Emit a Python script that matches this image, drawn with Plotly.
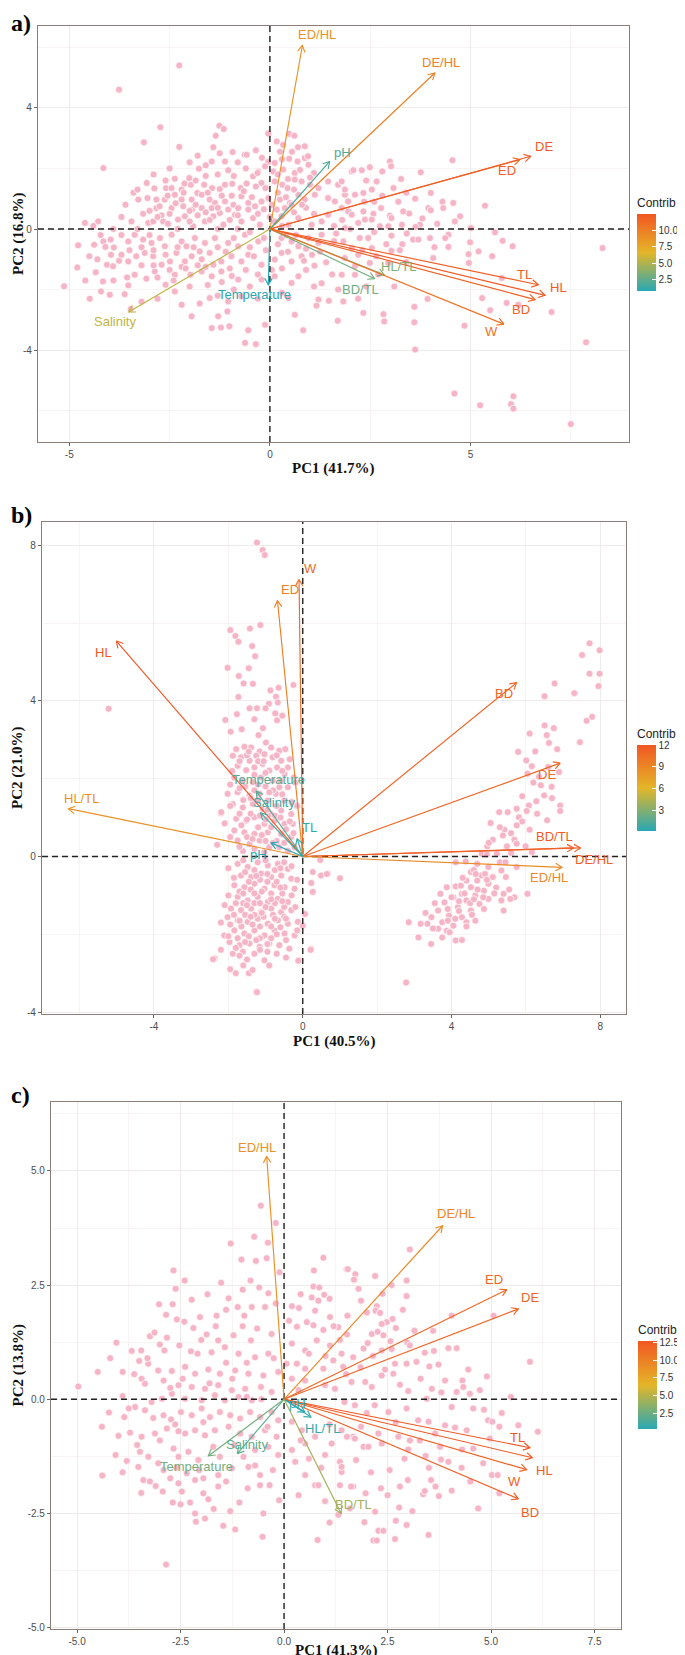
import plotly.graph_objects as go
import numpy as np

W, H = 685, 1655

# ---------------- Panel a data ----------------
a_ind = [(-2.26,5.40),(-3.76,4.60),
(-1.26,3.41),(-1.15,3.30),(-2.73,3.36),(-1.35,3.08),(-3.14,2.86),(-0.04,3.15),(0.17,2.89),(0.48,3.14),(0.61,3.08),(-2.26,2.71),(-1.41,2.70),(-0.93,2.54),(0.33,2.78),(0.87,2.73),
(-1.80,2.42),(-0.63,2.45),(-0.58,2.45),(-1.45,2.23),(-1.12,2.23),(-1.04,1.94),(-1.77,1.99),(-0.04,2.21),(0.12,2.18),(0.08,1.90),(0.48,2.32),(0.69,2.23),(0.96,2.12),(0.87,2.34),(-4.15,2.01),(-0.29,1.90),(-0.12,2.07),(0.33,1.96),(0.62,1.85),
(-2.37,1.66),(-2.01,1.68),(-1.97,1.46),(-2.13,1.50),(-1.81,1.19),(-1.64,1.46),(-1.44,1.35),(-1.25,1.32),(-1.12,1.46),(-0.94,1.49),(-0.73,1.35),(-0.58,1.50),(-0.42,1.74),(-0.31,1.85),(-0.21,1.52),(-0.11,1.35),(0.12,1.57),(0.31,1.46),(0.44,1.35),(0.62,1.63),(0.79,1.57),(1.00,1.46),(-3.07,1.52),(-2.88,1.34),(-2.59,1.35),(-2.45,1.35),
(-3.28,0.97),(-3.05,1.02),(-2.83,0.97),(-2.62,0.97),(-2.37,1.13),(-2.20,0.97),(-1.95,0.97),(-1.70,1.13),(-1.50,0.97),(-1.37,0.86),(-1.12,0.91),(-0.91,0.80),(-0.71,1.08),(-0.54,0.86),(-0.21,0.91),(-0.04,1.02),(0.25,0.97),(0.50,0.86),(0.71,1.13),(0.87,0.97),(1.12,1.13),(-3.16,0.50),(-2.83,0.69),(-2.70,0.45),(-2.45,0.69),(-2.16,0.75),(-1.94,0.64),(-1.70,0.69),(-1.45,0.69),(-1.25,0.53),(-1.04,0.64),(-0.79,0.69),(-0.54,0.64),(-0.37,0.75),(0.17,0.64),(0.37,0.69),(0.54,0.80),
(-3.45,0.25),(-3.03,0.20),(-2.91,0.25),(-2.66,0.25),(-2.54,0.17),(-2.29,0.31),(-2.12,0.42),(-1.91,0.09),(-1.62,0.25),(-1.41,0.42),(-1.16,0.14),(-0.87,0.47),(-0.71,0.25),(-0.42,0.36),(-0.25,0.14),(0.12,0.25),(0.29,0.42),(0.46,0.14),(0.71,0.36),(1.04,0.14),(1.29,0.25),(1.45,0.47),(-4.61,0.20),(-4.28,0.25),
(-4.38,-0.52),(-4.22,-0.20),(-4.15,-0.41),(-4.10,-0.59),(-3.97,-0.35),(-3.89,-0.61),(-3.53,-0.41),(-3.37,-0.19),(-3.16,-0.35),(-2.95,-0.46),(-2.74,-0.30),(-2.62,-0.57),(-2.45,-0.19),(-2.20,-0.41),(-2.08,-0.57),(-1.87,-0.30),(-1.62,-0.46),(-1.37,-0.30),(-1.04,-0.46),(-0.79,-0.57),(-0.62,-0.19),(-0.29,-0.41),(0.29,-0.30),(0.54,-0.41),(0.71,-0.57),(0.96,-0.30),(1.21,-0.46),(-4.78,-0.54),(1.29,-0.19),
(-4.06,-1.18),(-3.96,-0.85),(-3.91,-1.23),(-3.76,-1.05),(-3.70,-0.85),(-3.53,-1.07),(-3.33,-0.90),(-3.12,-0.79),(-2.91,-0.90),(-2.70,-1.18),(-2.49,-1.07),(-2.33,-0.79),(-2.12,-1.07),(-1.95,-0.90),(-1.75,-0.74),(-1.50,-0.79),(-1.41,-1.18),(-1.21,-1.07),(-0.96,-0.90),(-0.71,-1.07),(-0.54,-0.85),(-0.21,-1.18),(0.12,-1.01),(0.29,-0.79),(0.54,-1.07),(0.79,-0.90),(1.11,-1.21),(-4.80,-1.27),
(-4.34,-1.43),(-4.16,-1.73),(-3.56,-1.60),(-3.53,-1.86),(-3.37,-1.51),(-3.08,-1.64),(-2.87,-1.40),(-2.60,-1.84),(-2.37,-1.51),(-1.98,-1.51),(-1.70,-1.40),(-1.45,-1.56),(-1.21,-1.40),(-0.79,-1.67),(-0.21,-1.67),(0.12,-1.56),(0.54,-1.78),(0.71,-1.56),(1.29,-1.79),(-5.13,-1.89),
(-4.49,-2.30),(-4.21,-2.06),(-3.99,-2.17),(-3.62,-2.15),(-3.47,-2.64),(-2.37,-2.06),(-1.75,-2.46),(-1.50,-2.28),(-1.04,-2.39),(-0.71,-2.22),(0.46,-2.28),(1.21,-2.33),(1.47,-2.37),(1.83,-2.39),(-1.95,-2.88),(-1.29,-2.88),(-1.06,-2.72),(-1.45,-3.27),(-1.22,-3.25),(-1.01,-3.21),(-0.54,-3.34),(-0.12,-3.16),(0.62,-2.83),(0.83,-3.34),(1.16,-2.53),(1.69,-3.03),(-0.62,-3.76),(-0.35,-3.80),
(1.21,1.35),(1.45,1.57),(1.70,1.46),(1.87,1.13),(2.04,1.90),(1.62,0.91),(1.95,0.58),(1.45,1.02),
(-3.0,0.6),(-2.8,0.4),(-2.5,0.5),(-2.3,0.0),(-2.0,0.25),(-1.8,0.45),(-1.5,0.3),(-1.3,0.0),(-1.0,0.3),(-0.8,0.0),(-0.5,-0.1),(-0.3,0.5),(0.0,0.4),(0.3,0.1),(0.6,0.55),(0.9,0.7),(1.1,0.5),
(-3.2,-0.6),(-2.9,-0.7),(-2.6,-0.85),(-2.3,-0.6),(-1.9,-0.6),(-1.7,-1.0),(-1.3,-0.6),(-1.1,-0.75),(-0.9,-0.3),(-0.5,-0.6),(-0.1,-0.7),(0.2,-0.5),(0.45,-0.75),(0.9,-0.65),
(-2.6,1.6),(-2.2,1.3),(-1.85,1.6),(-1.6,1.75),(-1.3,1.8),(-0.9,1.75),(-0.6,2.0),(-0.2,2.35),(0.3,2.3),(0.55,2.55),(0.75,1.95),(1.1,1.85),(-2.9,-1.2),(-2.5,-1.35),(-2.2,-1.25),(-1.6,-1.25),(-1.0,-1.3),(-0.6,-1.35),(-0.3,-1.5),(0.3,-1.3),(0.9,-1.35),
(-3.6,0.8),(-3.4,1.2),(-3.3,0.0),(-3.0,-0.2),(-2.75,0.75),(-2.55,1.1),(-2.35,0.85),(-2.15,1.2),(-2.0,0.6),(-1.85,0.8),(-1.6,0.55),(-1.55,1.2),(-1.3,0.7),(-1.2,1.1),(-0.95,1.1),(-0.8,0.45),(-0.65,1.25),(-0.45,1.05),(-0.35,1.4),(-0.15,0.65),(0.05,0.8),(0.2,1.2),(0.4,1.05),(0.6,1.3),(0.8,0.8),(1.0,1.7),(0.45,1.65),(0.2,1.8),(0.95,2.4),(0.7,2.7),(0.25,2.55),(-0.35,2.6),(-0.8,2.2),(-1.25,2.5),(-1.6,2.1),(-2.0,2.2),(-2.5,2.0),(-2.9,1.8),(-3.3,1.3),(-3.7,0.4),(-3.9,0.0),(-4.4,0.1),(-4.5,-0.9),(-4.3,-1.0),(-3.7,-0.2),(-3.5,-0.7),(-3.2,-1.2),(-2.8,-1.6),(-2.4,-1.7),(-2.1,-1.3),(-2.0,-1.9),(-1.8,-1.2),(-1.55,-1.85),(-1.2,-1.75),(-0.95,-1.55),(-0.5,-1.9),(-0.4,-0.9),(-0.15,-0.3),(0.05,-1.35),(0.4,-0.2),(0.65,-0.2),(0.85,-1.05),(1.05,-0.85),(1.25,-0.75),(1.4,-1.1),(1.6,-0.4),(1.55,-1.5),(1.7,-2.0),(1.1,-1.9),(0.3,-2.1),(-0.3,-2.3),(-0.9,-2.0),(-1.3,-2.2),(-2.2,-2.5),(-2.8,-2.3),(-3.2,-2.4),(-3.9,-1.7),(-4.6,-1.7),
(1.6,0.1),(1.8,0.3),(1.65,-0.15),(2.0,0.0),(2.2,0.2),(2.35,0.9),(2.6,0.9),(2.8,1.1),(2.4,1.6),(2.8,1.9),(3.4,1.2),(3.2,0.9),(2.6,-0.1),(2.9,-0.5),(2.3,-0.7),(2.65,-0.9),(3.3,-0.5),(3.8,0.35),(4.3,0.9),(4.1,-0.6),(3.4,-1.1),(2.7,-1.5),(3.1,-1.9),(2.4,-1.9),(2.2,-2.3),
(4.55,2.27),(2.99,2.23),(3.02,2.07),(2.49,2.04),(2.29,1.94),(2.08,1.94),(3.76,1.87),(2.66,1.57),(3.27,1.65),(3.08,1.35),(4.01,1.19),(2.33,1.19),(2.54,1.30),(3.62,1.00),(2.77,0.69),(4.57,0.86),(5.36,0.77),(4.32,0.69),(3.95,0.69),(4.01,0.62),(3.47,0.51),(3.32,0.58),(2.99,0.44),(3.03,0.36),(2.58,0.50),(2.33,0.58),(2.37,0.31),(2.54,0.31),(4.74,0.42),(4.61,0.25),(4.17,0.17),(3.74,0.14),(3.63,0.07),(3.29,0.14),(2.95,0.09),(2.74,0.09),(5.01,0.03),(5.61,-0.11),(4.45,-0.19),(4.37,-0.30),(3.99,-0.30),(3.57,-0.35),(3.70,-0.35),(3.41,-0.15),(3.03,-0.22),(2.45,-0.30),(2.24,-0.30),(4.99,-0.44),(5.80,-0.39),(6.05,-0.57),(4.45,-0.59),(3.24,-0.70),(3.03,-0.72),(2.54,-0.63),(5.20,-0.74),(4.95,-0.83),(5.54,-0.90),(4.96,-1.12),(4.07,-0.96),(2.95,-1.12),(2.49,-1.12),(2.12,-1.23),(5.78,-1.62),(5.29,-2.28),(5.90,-2.44),(6.19,-2.50),(7.02,-2.74),(5.49,-2.68),(4.85,-3.19),(3.60,-2.57),(3.60,-3.08),(3.93,-2.31),(2.83,-2.81),(2.85,-3.05),(2.33,-2.77),(1.83,-2.39),(3.62,-3.98),(4.60,-5.43),(5.24,-5.82),(6.07,-5.52),(6.01,-5.78),(6.07,-5.93),(7.50,-6.44),(7.88,-3.74),(8.29,-0.63),
(1.79,1.57),(1.87,1.30),(1.95,0.91),(2.12,1.13),(1.79,0.69),(2.04,0.47),(1.87,0.03),(1.83,-0.41),(2.04,-0.63),(1.87,-0.96),(2.20,-0.85),(1.79,-1.51),(2.12,-1.51)]

a_vars = ["ED/HL", "DE/HL", "pH", "DE", "ED", "HL/TL", "BD/TL", "TL", "HL", "BD", "W", "Temperature", "Salinity"]
a_var_pc1 = [0.81, 4.11, 1.49, 6.50, 6.23, 2.85, 2.61, 6.69, 6.86, 6.61, 5.83, -0.04, -3.52]
a_var_pc2 = [6.06, 5.15, 2.23, 2.40, 2.29, -1.51, -1.64, -1.84, -2.19, -2.33, -3.14, -1.84, -2.74]
a_contrib = [8.8, 10.0, 2.0, 12.3, 11.8, 3.5, 3.0, 12.0, 12.5, 11.8, 10.8, 0.8, 5.5]
a_lab_pc1 = [1.17, 4.27, 1.82, 6.83, 5.90, 3.21, 2.25, 6.34, 7.19, 6.25, 5.52, -0.39, -3.87]
a_lab_pc2 = [6.41, 5.48, 2.51, 2.73, 1.93, -1.23, -2.00, -1.51, -1.93, -2.66, -3.38, -2.15, -3.05]

# ---------------- Panel b data ----------------
b_ind = [(-1.23,8.07),(-1.08,7.88),(-1.02,7.75),
(-1.95,5.82),(-1.42,5.86),(-1.14,5.95),(-1.81,5.67),(-1.73,5.52),(-1.36,5.41),(-1.28,5.15),(-1.45,4.84),(-2.02,4.85),(-1.72,4.64),(-1.59,4.45),(-1.34,4.44),(-0.65,4.34),(-0.25,4.41),(-0.87,4.27),(-1.73,4.10),(-0.72,4.11),(-0.91,3.93),(-0.67,3.96),(-1.43,3.81),(-1.23,3.81),(-1.00,3.81),(-2.08,3.51),(-1.77,3.66),(-1.30,3.53),(-0.74,3.68),(-0.55,3.62),(-0.69,3.50),(-1.07,3.30),(-1.64,3.27),(-1.94,3.21),(-1.19,3.12),
(-1.79,2.76),(-1.57,2.82),(-1.39,2.80),(-1.16,2.70),(-0.99,2.93),(-0.85,2.80),(-0.63,2.72),(-0.47,2.76),
(-1.88,2.59),(-1.66,2.55),(-1.43,2.46),(-1.25,2.59),(-1.03,2.63),(-0.81,2.55),(-0.58,2.46),(-0.40,2.29),
(-1.75,2.33),(-1.52,2.22),(-1.30,2.29),(-1.08,2.38),(-0.90,2.21),(-0.69,2.29),(-0.49,2.12),(-0.24,2.03),
(-1.84,2.03),(-1.61,1.95),(-1.34,1.91),(-1.12,2.03),(-0.81,1.95),(-0.63,1.78),(-0.40,1.78),
(-2.02,1.61),(-1.75,1.65),(-1.43,1.56),(-1.16,1.61),(-0.94,1.44),(-0.72,1.61),(-0.49,1.44),
(-2.20,1.11),(-1.88,1.35),(-1.61,1.26),(-1.34,1.35),(-1.08,1.22),(-0.85,1.09),(-0.58,1.18),(-0.31,1.09),
(-1.79,0.97),(-1.52,0.92),(-1.30,1.01),(-1.03,0.84),(-0.76,0.92),(-0.49,0.84),(-0.27,0.84),
(-1.84,0.67),(-1.57,0.62),(-1.30,0.58),(-0.94,0.62),(-0.58,0.58),(-0.31,0.50),
(-1.75,0.41),(-1.43,0.32),(-1.16,0.41),(-0.90,0.24),(-0.63,0.24),(-0.40,0.15),(-1.61,0.14),(-1.03,0.11),(-0.22,0.24),
(-1.2,2.45),(-1.5,2.6),(-0.7,2.6),(-1.0,2.15),(-1.3,2.1),(-0.6,1.95),(-1.55,1.8),(-1.0,1.8),(-0.8,1.7),(-1.3,1.7),(-1.6,1.45),(-1.2,1.45),(-0.7,1.3),(-1.4,1.1),(-1.15,1.05),(-0.95,1.2),(-0.75,1.05),(-1.65,0.8),(-1.2,0.75),(-0.85,0.75),(-0.45,0.7),(-1.5,0.5),(-1.1,0.55),(-0.7,0.4),(-1.3,0.2),(-0.8,0.35),
(-1.9,2.2),(-1.7,2.45),(-1.45,2.7),(-1.05,2.45),(-0.55,2.2),(-0.35,2.5),(-1.95,1.85),(-1.7,1.75),(-1.4,1.5),(-1.2,1.85),(-0.9,1.65),(-0.55,1.6),(-0.3,1.4),(-1.95,1.3),(-1.7,1.1),(-1.5,0.95),(-1.0,0.95),(-0.6,1.0),(-0.35,0.9),(-1.95,0.5),(-1.7,0.25),(-1.35,0.45),(-1.0,0.4),(-0.5,0.35),(-0.25,0.6),(-2.1,0.85),(-2.3,0.3),(-0.15,1.3),(-0.2,1.9),
(-1.75,-0.19),(-1.48,-0.27),(-1.21,-0.15),(-0.94,-0.23),(-0.67,-0.19),(-0.40,-0.32),
(-1.66,-0.49),(-1.39,-0.53),(-1.12,-0.44),(-0.85,-0.53),(-0.58,-0.49),(-0.31,-0.57),(0.27,-0.40),(0.49,-0.49),(0.67,-0.44),
(-1.84,-0.74),(-1.57,-0.79),(-1.30,-0.70),(-1.03,-0.83),(-0.76,-0.74),(-0.49,-0.79),(-0.22,-0.83),(0.27,-0.91),
(-1.75,-1.04),(-1.48,-1.13),(-1.21,-1.04),(-0.94,-1.17),(-0.67,-1.09),(-0.40,-1.17),
(-1.93,-1.34),(-1.66,-1.38),(-1.39,-1.34),(-1.12,-1.43),(-0.85,-1.34),(-0.58,-1.43),(-0.31,-1.38),
(-2.02,-1.56),(-1.75,-1.64),(-1.48,-1.68),(-1.21,-1.60),(-0.94,-1.73),(-0.67,-1.64),(-0.40,-1.73),(-0.13,-1.68),
(-1.84,-1.90),(-1.57,-1.98),(-1.30,-1.90),(-1.03,-2.03),(-0.76,-1.90),(-0.49,-1.98),(-0.22,-2.03),(-2.11,-2.03),
(-1.97,-2.20),(-1.70,-2.28),(-1.43,-2.24),(-1.16,-2.32),(-0.90,-2.24),(-0.63,-2.28),(-0.36,-2.37),
(-1.88,-2.50),(-1.61,-2.45),(-1.03,-2.67),(-1.34,-2.92),(-2.37,-2.62),(-0.09,-2.67),(0.22,-2.37),(-1.25,-3.48),
(-1.6,-0.1),(-1.3,-0.35),(-1.0,-0.1),(-0.75,-0.35),(-0.5,-0.15),(-1.45,-0.65),(-1.15,-0.6),(-0.7,-0.65),(-1.7,-0.9),(-1.4,-0.85),(-1.1,-0.9),(-0.85,-0.95),(-0.55,-0.95),(-1.6,-1.2),(-1.3,-1.2),(-1.0,-1.3),(-0.75,-1.2),(-0.5,-1.3),(-1.85,-1.5),(-1.55,-1.5),(-1.3,-1.5),(-1.05,-1.55),(-0.8,-1.5),(-0.5,-1.55),(-1.65,-1.8),(-1.35,-1.75),(-1.15,-1.8),(-0.85,-1.8),(-0.6,-1.82),(-1.95,-1.75),(-1.45,-2.05),(-1.15,-2.1),(-0.85,-2.1),(-1.8,-2.35),(-1.3,-2.5),(-0.95,-2.45),(-1.5,-2.65),(-1.95,-2.9),(-1.6,-2.8),
(-2.0,-0.3),(-1.85,-0.55),(-1.55,-0.4),(-1.25,-0.5),(-0.95,-0.45),(-0.6,-0.3),(-0.3,-0.25),(-0.15,-0.6),(-2.0,-1.0),(-1.6,-0.95),(-1.3,-0.95),(-0.95,-0.65),(-0.6,-0.8),(-0.3,-1.0),(-2.1,-1.25),(-1.8,-1.2),(-1.5,-1.25),(-1.15,-1.2),(-0.85,-1.1),(-0.55,-1.15),(-0.2,-1.3),(-2.2,-1.7),(-1.7,-1.65),(-1.4,-1.55),(-1.1,-1.45),(-0.75,-1.6),(-0.45,-1.6),(-0.15,-1.9),(-2.0,-2.05),(-1.75,-2.1),(-1.55,-2.2),(-1.25,-2.15),(-0.95,-2.25),(-0.7,-2.0),(-0.45,-2.15),(-2.2,-2.4),(-1.7,-2.55),(-1.15,-2.4),(-0.7,-2.5),(-0.45,-2.6),(-1.8,-3.0),(-1.45,-3.0),(-0.9,-2.8),
(-5.22,3.80),(-2.19,1.14),(-2.41,-2.64),(-1.35,-2.92),(-1.23,-3.49),(-0.12,-2.68),(0.21,-2.40),(0.06,-1.48),(0.47,-0.09),(0.65,-0.45),(1.00,-0.56),(0.23,-0.68),(0.0,-1.78),(2.78,-3.24),
(7.71,5.48),(7.98,5.30),(7.51,5.18),(7.71,4.70),(7.98,4.70),(7.95,4.38),(6.77,4.45),(6.50,4.12),(7.78,3.59),(7.63,3.49),(7.45,2.94),(6.10,3.16),(6.50,3.37),(6.56,3.12),(6.62,2.92),(6.84,2.76),(5.79,2.69),(6.01,2.47),(6.16,2.32),(6.89,2.17),(6.04,2.13),(6.40,1.83),(6.69,1.79),(6.49,1.57),(6.28,1.42),(6.08,1.31),(6.92,1.31),(6.92,1.17),(5.75,1.23),(6.02,1.17),(5.51,1.14),(5.28,1.14),(5.81,1.01),(6.57,0.93),(5.05,0.86),(5.42,0.69),(6.10,0.69),(5.11,0.43),(5.69,0.43),(5.38,0.54),(4.96,0.26),(5.49,0.26),(5.75,0.33),(5.99,0.26),(6.16,0.11),(4.81,0.07),(5.22,0.07),(5.60,0.09),(4.69,-0.19),(4.11,-0.15),(4.38,-0.13),(4.99,-0.27),(5.34,-0.36),(5.75,-0.27),(4.52,-0.40),(4.79,-0.49),(5.11,-0.53),(5.46,-0.53),(4.40,-0.62),(4.69,-0.62),(4.99,-0.70),(4.11,-0.77),(4.52,-0.79),(4.87,-0.88),(3.87,-0.79),(4.28,-0.96),(4.64,-1.00),(4.99,-1.09),(5.40,-0.96),(5.69,-1.05),(6.04,-0.96),(3.70,-0.96),(4.05,-1.05),(4.40,-1.13),(4.75,-1.22),(5.34,-1.13),(5.58,-1.09),(3.81,-1.18),(4.17,-1.30),(4.52,-1.39),(4.87,-1.35),(5.40,-1.39),(3.64,-1.39),(3.93,-1.52),(4.28,-1.56),(4.64,-1.65),(3.46,-1.56),(3.75,-1.69),(4.05,-1.78),(4.40,-1.69),(3.35,-1.73),(3.64,-1.86),(3.87,-1.91),(3.17,-1.73),(2.85,-1.69),(3.11,-2.08),(3.75,-2.08),(4.11,-2.16),(4.28,-2.15),
(4.6,-0.35),(4.9,-0.45),(4.3,-0.55),(4.7,-0.85),(4.2,-1.15),(4.5,-1.2),(3.9,-1.35),(4.1,-1.6),(4.85,-1.05),(5.2,-0.8),(5.3,-0.15),(4.95,0.05),(5.6,0.6),(5.9,0.9),(6.3,1.1),(6.7,1.5),(6.2,1.9),(6.6,2.3),(4.4,-1.8),(3.55,-1.2),
(3.3,-1.45),(3.5,-1.85),(3.9,-1.65),(4.2,-1.4),(4.35,-0.95),(4.6,-1.1),(4.0,-1.05),(4.25,-0.75),(4.65,-0.45),(4.95,-0.6),(5.15,-0.95),(5.55,-0.85),(5.45,-0.15),(5.0,0.35),(5.3,0.75),(5.75,0.8),(5.9,1.55),(6.35,2.05),(6.25,2.7),(6.75,3.3),(7.3,4.2),(4.55,-1.5),(3.95,-1.95),(3.45,-2.25)]

b_vars = ["W", "ED", "HL", "HL/TL", "BD", "DE", "BD/TL", "DE/HL", "ED/HL", "Temperature", "Salinity", "TL", "pH"]
b_var_pc1 = [-0.10, -0.68, -5.01, -6.30, 5.75, 6.92, 7.28, 7.47, 6.97, -1.25, -1.13, -0.15, -0.85]
b_var_pc2 = [7.12, 6.58, 5.54, 1.23, 4.47, 2.40, 0.22, 0.22, -0.28, 1.68, 1.12, 0.46, 0.35]
b_contrib = [10.8, 9.5, 12.0, 8.3, 11.2, 11.0, 11.8, 11.4, 8.8, 1.6, 1.0, 0.5, 0.2]
b_lab_pc1 = [0.22, -0.35, -5.36, -5.96, 5.40, 6.56, 6.77, 7.84, 6.63, -0.91, -0.77, 0.19, -1.20]
b_lab_pc2 = [7.40, 6.86, 5.24, 1.48, 4.19, 2.12, 0.51, -0.08, -0.55, 1.97, 1.38, 0.75, 0.05]

# ---------------- Panel c data ----------------
c_ind = [(-0.56,4.24),(-0.20,3.86),(-0.72,3.56),(-1.29,3.41),(-0.39,3.43),(-1.03,3.06),(-0.68,3.03),(-0.42,3.09),(-2.67,2.82),(-0.11,2.78),(-1.52,2.55),(-2.62,2.42),(-0.81,2.60),(-0.60,2.45),(-0.38,2.32),(-2.23,2.18),(-3.02,2.08),(-2.69,2.08),(-1.34,2.21),(-1.12,2.02),(-0.78,2.02),(-0.46,2.02),(-4.05,1.24),(-2.85,1.85),(-2.59,1.75),(-2.41,1.70),(-2.03,1.80),(-1.63,1.83),(-1.40,1.96),(-0.96,1.83),
(-3.24,1.38),(-3.13,1.46),(-2.83,1.35),(-2.19,1.56),(-1.87,1.42),(-1.59,1.29),(-1.22,1.40),(-0.80,1.29),(-0.30,1.43),(-3.68,1.06),(-3.45,1.07),(-2.89,1.07),(-2.53,1.18),(-2.09,1.00),(-1.75,1.03),(-1.43,1.14),(-1.10,1.00),(-0.70,0.92),(-0.38,1.00),
(-3.50,0.84),(-3.28,0.78),(-3.04,0.63),(-2.71,0.62),(-2.39,0.71),(-2.15,0.56),(-1.83,0.65),(-1.55,0.56),(-1.18,0.63),(-0.86,0.56),(-0.50,0.52),(-0.14,0.60),(-3.62,0.55),(-3.44,0.45),(-3.36,0.34),(-2.91,0.41),(-2.55,0.31),(-2.23,0.27),(-1.91,0.23),(-1.59,0.31),(-1.26,0.20),(-0.94,0.23),(-0.56,0.27),(-0.30,0.16),(-4.97,0.28),
(-3.90,0.07),(-3.20,-0.06),(-2.95,0.01),(-2.71,0.12),(-2.39,0.01),(-1.99,-0.02),(-1.67,0.09),(-1.43,-0.02),(-1.10,0.05),(-0.78,-0.02),
(-4.23,-0.29),(-3.86,-0.39),(-3.60,-0.17),(-3.36,-0.24),(-3.16,-0.41),(-2.91,-0.35),(-2.73,-0.44),(-2.49,-0.28),(-2.23,-0.35),(-1.99,-0.20),(-1.79,-0.39),(-1.55,-0.28),(-1.30,-0.35),(-1.06,-0.42),(-0.82,-0.28),(-0.58,-0.39),(-0.30,-0.28),(-0.14,-0.46),
(-3.72,-0.73),(-3.44,-0.82),(-3.12,-0.75),(-2.83,-0.64),(-2.63,-0.55),(-2.39,-0.75),(-2.15,-0.68),(-1.91,-0.79),(-1.67,-0.68),(-1.34,-0.60),(-1.06,-0.75),(-0.78,-0.82),(-0.46,-0.68),(-0.18,-0.82),
(-4.07,-1.22),(-3.80,-1.35),(-3.48,-1.15),(-3.28,-1.26),(-3.04,-1.40),(-2.67,-1.08),(-2.55,-1.26),(-2.31,-1.15),(-2.07,-1.33),(-1.71,-1.04),(-1.55,-1.26),(-0.98,-1.26),(-0.70,-1.11),(-0.38,-1.04),(-0.14,-1.22),
(-4.39,-1.67),(-3.52,-1.48),(-3.40,-1.77),(-3.24,-1.80),(-2.91,-1.55),(-2.75,-1.73),(-2.55,-1.84),(-2.35,-1.62),(-2.15,-1.77),(-1.95,-1.73),(-1.59,-1.66),(-1.26,-1.51),(-0.86,-1.48),(-0.58,-1.66),(-0.27,-1.55),
(-3.45,-2.05),(-2.93,-2.02),(-2.69,-2.26),(-2.47,-2.02),(-2.27,-2.26),(-1.95,-2.06),(-1.83,-2.19),(-1.59,-1.91),(-1.08,-2.26),(-0.88,-1.95),(-0.58,-1.88),(-0.35,-1.88),(-0.12,-2.21),
(-2.15,-2.50),(-1.91,-2.61),(-2.13,-2.68),(-1.47,-2.77),(-1.18,-2.85),(-0.52,-3.01),(-2.85,-3.62),
(-4.5,0.6),(-4.2,0.9),(-3.9,0.6),(-3.75,-0.2),(-3.3,0.9),(-3.0,1.2),(-2.75,0.25),(-2.45,0.45),(-2.25,1.05),(-2.0,1.3),(-1.8,0.35),(-1.65,1.6),(-1.4,0.8),(-1.25,0.45),(-1.0,1.6),(-0.9,0.8),(-0.65,1.55),(-0.55,0.0),(-0.25,0.9),(-0.2,2.1),(-1.85,2.3),(-2.4,2.6),(-1.0,2.4),(-0.9,0.05),(-1.95,-0.5),(-2.55,-0.7),(-3.0,-0.9),(-3.55,-1.0),(-4.0,-0.8),(-4.4,-0.6),(-3.9,-1.6),(-3.1,-1.9),(-2.6,-1.5),(-2.05,-1.55),(-1.4,-1.8),(-1.2,-1.0),(-0.7,-1.45),(-0.4,-0.6),(-1.7,-2.4),(-2.5,-2.3),(-0.5,-2.5),(-1.3,-2.45),
(0.72,2.82),(0.71,2.47),(0.85,2.45),(0.67,2.23),(0.97,2.29),(0.83,2.16),(0.19,2.04),(0.36,2.00),(0.75,1.94),(0.12,1.72),(0.31,1.59),(0.55,1.69),(0.71,1.62),(0.95,1.52),(1.11,1.80),(1.31,1.58),(1.51,2.85),(1.70,2.62),(1.55,1.83),
(0.19,1.22),(0.51,1.07),(0.79,1.29),(1.11,1.18),(1.39,1.00),(0.06,0.78),(0.31,0.78),(0.51,0.67),(0.95,0.67),(1.19,0.85),(1.43,0.71),(1.67,0.92),(0.19,0.45),(0.51,0.41),(0.99,0.31),(1.23,0.23),(1.63,0.38),
(0.19,-0.49),(0.43,-0.68),(0.19,-1.11),(0.51,-0.97),(0.75,-0.82),(1.15,-0.97),(1.39,-0.68),(1.67,-0.82),(0.27,-1.37),(0.51,-1.66),(0.75,-1.88),(0.99,-1.22),(1.35,-1.37),(1.39,-1.59),(1.67,-1.91),(0.35,-2.10),(0.83,-1.88),(0.99,-2.23),(1.59,-2.39),(0.81,-3.08),(1.31,-2.53),
(0.35,0.2),(0.6,1.0),(1.0,0.95),(1.35,1.3),(1.5,0.55),(1.85,0.7),(2.15,0.95),(2.6,1.1),(3.15,1.5),(3.6,1.5),(3.3,0.45),(3.8,0.15),(4.45,0.65),(4.9,0.5),(5.2,-0.6),(4.3,-1.1),(3.5,-1.5),(2.55,-1.55),(2.1,-1.6),(1.1,-0.55),(0.6,-1.3),(1.1,-2.7),(2.5,-2.1),(3.1,-2.45),(4.05,-2.0),(4.5,-1.8),(2.0,-0.3),(2.7,-0.5),(3.0,-1.1),(0.4,-0.9),(0.9,-1.5),(1.2,1.6),(0.4,2.3),(1.1,2.2),(2.0,1.9),(2.6,2.5),(2.2,2.7),(0.95,3.1),
(3.04,3.28),(1.54,2.85),(1.72,2.74),(1.69,2.62),(2.96,2.60),(1.80,2.42),(2.38,2.31),(2.96,2.26),(1.86,2.16),(2.24,2.04),(2.87,1.96),(1.53,1.83),(2.21,1.94),(2.32,1.89),(2.62,1.76),(2.48,1.69),(2.36,1.65),(4.05,1.83),(5.06,1.83),(2.70,1.56),(2.12,1.43),(2.26,1.48),(2.40,1.40),(1.52,1.42),(2.57,1.27),(2.98,1.24),(2.02,1.23),(3.04,1.18),(1.92,1.11),(2.36,1.07),(3.40,1.02),(3.62,1.06),(3.97,1.12),(4.17,1.12),
(3.20,0.82),(2.96,0.78),(2.68,0.78),(3.51,0.72),(3.73,0.76),(5.94,0.82),(2.44,0.65),(2.64,0.56),(2.36,0.52),(1.96,0.38),(2.12,0.27),(2.80,0.32),(3.00,0.18),(3.89,0.41),(4.31,0.41),(4.33,0.27),(4.17,0.16),(4.73,0.20),(4.49,0.12),(3.57,0.23),(3.45,0.01),(5.48,0.05),
(1.46,-0.06),(1.71,-0.13),(2.19,-0.13),(2.52,-0.28),(2.96,-0.20),(3.24,-0.46),(3.49,-0.49),(4.05,-0.17),(4.57,-0.20),(4.83,-0.23),(5.26,-0.30),(4.93,-0.46),(5.03,-0.49),(3.89,-0.57),(4.13,-0.62),(4.41,-0.68),(5.66,-0.57),(6.13,-0.71),(1.86,-0.60),(2.28,-0.75),(2.76,-0.82),(3.28,-0.90),(3.65,-0.75),(1.52,-0.82),(1.71,-0.86),(1.92,-1.04),(2.04,-1.04),(2.36,-0.97),(3.04,-0.90),(3.77,-1.04),(4.57,-1.08),(4.97,-0.86),
(2.91,-1.30),(3.42,-1.24),(3.79,-1.32),(3.97,-1.37),(4.29,-1.50),(4.81,-1.40),(5.02,-1.66),(5.16,-1.66),(1.74,-1.33),(1.39,-1.48),(1.35,-1.88),(1.62,-1.91),(2.34,-1.95),(2.80,-1.91),(2.99,-1.77),(3.55,-1.77),(3.66,-1.91),(3.36,-2.08),(3.74,-2.12),(3.40,-2.01),(5.20,-2.06),(1.97,-2.06),(2.78,-2.37),(2.20,-2.46),(4.69,-2.39),(1.94,-2.69),(2.70,-2.66),(2.96,-2.75),(2.28,-2.88),(2.40,-2.88),(2.16,-3.09),(2.24,-3.09),(2.68,-3.06),(3.49,-2.97)]

c_vars = ["ED/HL", "DE/HL", "ED", "DE", "TL", "HL", "W", "BD", "HL/TL", "pH", "Salinity", "Temperature", "BD/TL"]
c_var_pc1 = [-0.42, 3.83, 5.38, 5.66, 5.94, 6.00, 5.86, 5.66, 0.65, 0.50, -1.13, -1.83, 1.38]
c_var_pc2 = [5.32, 3.80, 2.40, 1.98, -1.06, -1.28, -1.54, -2.18, -0.39, -0.28, -1.19, -1.24, -2.50]
c_contrib = [9.0, 9.6, 11.6, 11.8, 12.7, 12.5, 12.0, 12.3, 0.8, 0.3, 2.0, 2.8, 4.3]
c_lab_pc1 = [-0.66, 4.16, 5.08, 5.93, 5.63, 6.29, 5.56, 5.95, 0.93, 0.32, -0.89, -2.11, 1.68]
c_lab_pc2 = [5.51, 4.07, 2.63, 2.22, -0.84, -1.55, -1.80, -2.47, -0.64, -0.10, -0.98, -1.48, -2.30]

# ---------------- styling / layout ----------------
STOPS = [(0.0, (40, 168, 180)), (0.5, (228, 182, 40)), (1.0, (242, 86, 35))]
CSCALE = [[s, "rgb(%d,%d,%d)" % c] for s, c in STOPS]


def contrib_color(v, lo, hi):
    t = min(max((v - lo) / (hi - lo), 0), 1)
    for (s0, c0), (s1, c1) in zip(STOPS[:-1], STOPS[1:]):
        if t <= s1:
            f = (t - s0) / (s1 - s0)
            rgb = [round(a + (b - a) * f) for a, b in zip(c0, c1)]
            return "rgb(%d,%d,%d)" % tuple(rgb)
    return "rgb(%d,%d,%d)" % STOPS[-1][1]


panels = [
    dict(ind=a_ind, vars=a_vars, vx=a_var_pc1, vy=a_var_pc2, con=a_contrib,
         lx=a_lab_pc1, ly=a_lab_pc2, box=(30, 18, 621, 434),
         xr=(-5.78, 8.95), yr=(-7.03, 6.70),
         xt=[-5, 0, 5], xtt=["-5", "0", "5"], yt=[-4, 0, 4], ytt=["-4", "0", "4"],
         xminor=2.5, yminor=2.0,
         xtitle="PC1 (41.7%)", ytitle="PC2 (16.8%)", letter="a)", tgap=27,
         crange=(0.8, 12.5), cbar=(639, 187, 283), cticks=[2.5, 5, 7.5, 10],
         cticktext=["2.5", "5.0", "7.5", "10.0"]),
    dict(ind=b_ind, vars=b_vars, vx=b_var_pc1, vy=b_var_pc2, con=b_contrib,
         lx=b_lab_pc1, ly=b_lab_pc2, box=(34, 514, 618, 1006),
         xr=(-7.01, 8.69), yr=(-4.05, 8.60),
         xt=[-4, 0, 4, 8], xtt=["-4", "0", "4", "8"], yt=[-4, 0, 4, 8], ytt=["-4", "0", "4", "8"],
         xminor=2.0, yminor=2.0,
         xtitle="PC1 (40.5%)", ytitle="PC2 (21.0%)", letter="b)", tgap=27,
         crange=(0.2, 12.0), cbar=(639, 718, 823), cticks=[3, 6, 9, 12],
         cticktext=["3", "6", "9", "12"]),
    dict(ind=c_ind, vars=c_vars, vx=c_var_pc1, vy=c_var_pc2, con=c_contrib,
         lx=c_lab_pc1, ly=c_lab_pc2, box=(43, 1094, 613, 1621),
         xr=(-5.63, 8.14), yr=(-5.03, 6.51),
         xt=[-5, -2.5, 0, 2.5, 5, 7.5], xtt=["-5.0", "-2.5", "0.0", "2.5", "5.0", "7.5"],
         yt=[-5, -2.5, 0, 2.5, 5], ytt=["-5.0", "-2.5", "0.0", "2.5", "5.0"],
         xminor=1.25, yminor=1.25,
         xtitle="PC1 (41.3%)", ytitle="PC2 (13.8%)", letter="c)", tgap=21,
         crange=(0.3, 12.7), cbar=(640, 1314, 1421), cticks=[2.5, 5, 7.5, 10, 12.5],
         cticktext=["2.5", "5.0", "7.5", "10.0", "12.5"]),
]

fig = go.Figure()
layout = dict(width=W, height=H, paper_bgcolor="white", plot_bgcolor="white",
              margin=dict(l=0, r=0, t=0, b=0, autoexpand=False), showlegend=False)
annotations = []
FRAME = "#8c7d76"
TICKC = "#4d4d4d"
SANS = "Liberation Sans, Arial, sans-serif"
SERIF = "Liberation Serif, Times New Roman, serif"
CB_SHIFT = 10  # plotly offsets the bar slightly right of its anchor

for i, p in enumerate(panels):
    k = "" if i == 0 else str(i + 1)
    xa, ya = "x" + k, "y" + k
    L, T, R, B = p["box"]
    common = dict(ticks="outside", ticklen=3, tickcolor="#666",
                  tickfont=dict(family=SANS, size=10, color=TICKC),
                  showgrid=True, gridcolor="#efebea", gridwidth=1, zeroline=False,
                  showline=True, mirror=True, linecolor=FRAME, linewidth=1.2, fixedrange=True)
    layout["xaxis" + k] = dict(domain=[L / W, R / W], range=list(p["xr"]), anchor=ya,
                               tickvals=p["xt"], ticktext=p["xtt"],
                               minor=dict(dtick=p["xminor"], tick0=0, showgrid=True,
                                          gridcolor="#f7f4f3", gridwidth=0.8, ticks=""),
                               **common)
    layout["yaxis" + k] = dict(domain=[1 - B / H, 1 - T / H], range=list(p["yr"]), anchor=xa,
                               tickvals=p["yt"], ticktext=p["ytt"],
                               minor=dict(dtick=p["yminor"], tick0=0, showgrid=True,
                                          gridcolor="#f7f4f3", gridwidth=0.8, ticks=""),
                               **common)

    # individuals
    px_, py_ = zip(*p["ind"])
    fig.add_trace(go.Scatter(x=list(px_), y=list(py_), mode="markers", xaxis=xa, yaxis=ya,
                             marker=dict(color="#f6b4c7", size=7, line=dict(color="rgba(255,255,255,0.9)", width=0.8)),
                             hoverinfo="skip"))
    # dashed reference lines
    dash = dict(color="#222", width=1.4, dash="6px,4px")
    fig.add_trace(go.Scatter(x=list(p["xr"]), y=[0, 0], mode="lines", line=dash, xaxis=xa, yaxis=ya, hoverinfo="skip"))
    fig.add_trace(go.Scatter(x=[0, 0], y=list(p["yr"]), mode="lines", line=dash, xaxis=xa, yaxis=ya, hoverinfo="skip"))

    # arrows
    sx = (R - L) / (p["xr"][1] - p["xr"][0])
    sy = (B - T) / (p["yr"][1] - p["yr"][0])
    lo, hi = p["crange"]
    hl, ang = 7.5, np.radians(30)
    for name, vx, vy, cv, lx, ly in zip(p["vars"], p["vx"], p["vy"], p["con"], p["lx"], p["ly"]):
        col = contrib_color(cv, lo, hi)
        th = np.arctan2(vy * sy, vx * sx)
        h1x = vx - hl * np.cos(th - ang) / sx
        h1y = vy - hl * np.sin(th - ang) / sy
        h2x = vx - hl * np.cos(th + ang) / sx
        h2y = vy - hl * np.sin(th + ang) / sy
        fig.add_trace(go.Scatter(x=[0, vx, None, h1x, vx, h2x], y=[0, vy, None, h1y, vy, h2y],
                                 mode="lines", line=dict(color=col, width=1.15), xaxis=xa, yaxis=ya,
                                 hoverinfo="skip"))
        annotations.append(dict(x=lx, y=ly, xref=xa, yref=ya, text=name, showarrow=False,
                                font=dict(family=SANS, size=13, color=col),
                                xanchor="center", yanchor="middle"))

    # colorbar (legend "Contrib")
    cx, cy0, cy1 = p["cbar"]
    fig.add_trace(go.Scatter(
        x=[None], y=[None], mode="markers", xaxis=xa, yaxis=ya, hoverinfo="skip",
        marker=dict(color=[lo, hi], cmin=lo, cmax=hi, colorscale=CSCALE, showscale=True, size=0,
                    colorbar=dict(x=(cx - CB_SHIFT) / W, xanchor="left", xpad=0, y=1 - (cy0 + cy1) / 2 / H,
                                  yanchor="middle", ypad=0, len=cy1 - cy0, lenmode="pixels",
                                  thickness=19, thicknessmode="pixels", outlinewidth=0,
                                  ticks="inside", ticklen=4, tickcolor="white", tickwidth=1,
                                  tickvals=p["cticks"], ticktext=p["cticktext"],
                                  tickfont=dict(family=SANS, size=10, color="#333"),
                                  title=dict(text="Contrib", side="top",
                                             font=dict(family=SANS, size=12, color="#222"))))))

    # axis titles and panel letter
    annotations.append(dict(x=(L + R) / 2 / W, y=1 - (B + p["tgap"]) / H, xref="paper", yref="paper",
                            text="<b>%s</b>" % p["xtitle"], showarrow=False,
                            font=dict(family=SERIF, size=15, color="#111"),
                            xanchor="center", yanchor="middle"))
    annotations.append(dict(x=10 / W, y=1 - (T + B) / 2 / H, xref="paper", yref="paper",
                            text="<b>%s</b>" % p["ytitle"], showarrow=False, textangle=-90,
                            font=dict(family=SERIF, size=15, color="#111"),
                            xanchor="center", yanchor="middle"))
    annotations.append(dict(x=1 / W, y=1 - (T - 22) / H if i else 1.0, xref="paper", yref="paper",
                            text="<b>%s</b>" % p["letter"], showarrow=False,
                            font=dict(family=SERIF, size=24, color="#000"),
                            xanchor="left", yanchor="top"))

layout["annotations"] = annotations
fig.update_layout(**layout)
fig.write_html("out.html")
